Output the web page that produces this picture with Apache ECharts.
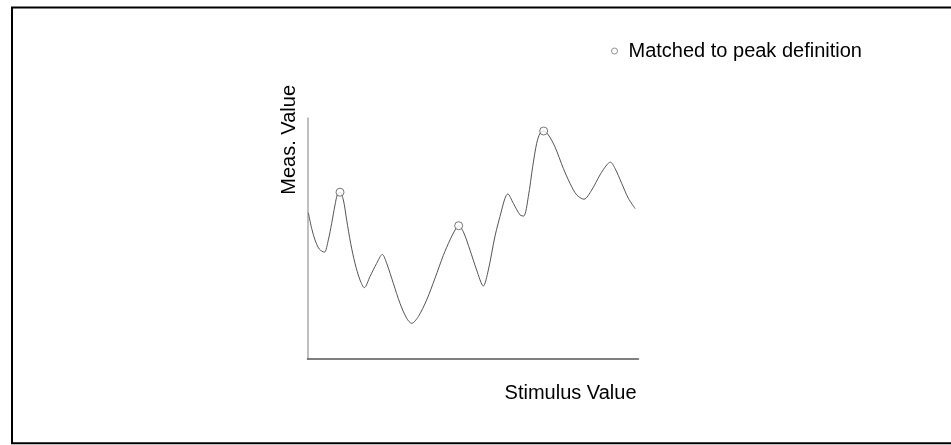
<!DOCTYPE html>
<html>
<head>
<meta charset="utf-8">
<script src="https://cdn.jsdelivr.net/npm/echarts@6/dist/echarts.min.js"></script>
<style>
  html, body { margin: 0; padding: 0; background: #fff; }
  #chart { width: 951px; height: 445px; }
</style>
</head>
<body>
<div id="chart"></div>
<script>
// Measured response curve (stimulus, measured value), arbitrary units
const stimulus = [0.25, 1.26, 2.27, 3.57, 5.08, 6.29, 7.30, 8.31, 9.01, 9.82, 10.83, 11.83,
  13.04, 14.35, 15.86, 17.17, 18.88, 20.90, 22.61, 23.92, 25.93, 27.95, 29.96, 31.47, 33.48,
  36.00, 38.52, 41.04, 43.05, 44.56, 45.67, 47.08, 49.09, 51.11, 53.12, 54.63, 56.65, 58.66,
  59.67, 60.47, 62.18, 64.20, 65.31, 66.72, 68.03, 69.24, 70.24, 71.35, 72.76, 74.77, 77.29,
  79.31, 81.32, 83.53, 85.85, 88.37, 90.38, 91.49, 92.90, 94.92, 96.93, 99.00];
const measured = [60.7, 54.2, 49.4, 45.6, 44.3, 49.4, 56.3, 63.9, 68.1, 69.2, 66.0, 57.7,
  48.0, 39.7, 32.8, 29.6, 34.2, 39.7, 43.4, 39.7, 31.4, 23.1, 16.9, 14.8, 17.6,
  24.5, 33.5, 43.0, 49.4, 53.5, 55.3, 52.8, 45.2, 36.9, 30.3, 36.9, 51.0, 61.8,
  66.7, 68.5, 64.6, 59.8, 59.3, 67.4, 79.8, 89.5, 93.6, 94.6, 93.0, 88.0, 79.1,
  72.9, 68.1, 66.3, 70.1, 76.4, 80.5, 81.7, 79.1, 72.9, 66.7, 62.4];

// Peaks that satisfy the peak definition
const peakStimulus = [9.82, 45.67, 71.35];
const peakMeasured = [69.2, 55.3, 94.6];

const peakLabel = 'Matched to peak definition';
const xName = 'Stimulus Value';
const yName = 'Meas. Value';

const FONT = "'Liberation Sans', Arial, Helvetica, sans-serif";

const curve = stimulus.map((s, i) => [s, measured[i]]);
const peaks = peakStimulus.map((s, i) => [s, peakMeasured[i]]);

const chart = echarts.init(document.getElementById('chart'), null, { renderer: 'canvas' });
chart.setOption({
  animation: false,
  backgroundColor: '#fff',
  textStyle: { fontFamily: FONT },
  graphic: [{
    type: 'rect',
    shape: { x: 12, y: 7.5, width: 950, height: 435.8 },
    style: { fill: 'none', stroke: '#000', lineWidth: 2 },
    silent: true
  }],
  legend: {
    data: [peakLabel],
    left: 606,
    top: 36,
    icon: 'circle',
    itemWidth: 6,
    itemHeight: 6,
    itemStyle: { color: '#fff', borderColor: '#777', borderWidth: 1 },
    textStyle: { fontFamily: FONT, fontSize: 20, color: '#000', padding: [0, 0, 0, 6] }
  },
  grid: { left: 307.5, right: 312.5, top: 118, bottom: 86 },
  xAxis: {
    type: 'value', min: 0, max: 100,
    name: xName,
    nameLocation: 'end',
    nameGap: -2,
    nameTextStyle: { fontFamily: FONT, fontSize: 20, color: '#000', align: 'right', verticalAlign: 'top', padding: [24, 0, 0, 0] },
    axisLine: { lineStyle: { color: '#555', width: 1.5 } },
    axisTick: { show: false }, axisLabel: { show: false }, splitLine: { show: false }
  },
  yAxis: {
    type: 'value', min: 0, max: 100,
    name: yName,
    nameLocation: 'end',
    nameRotate: 90,
    nameGap: 33,
    nameTextStyle: { fontFamily: FONT, fontSize: 20, color: '#000', align: 'right', verticalAlign: 'bottom', padding: [0, 0, 8, 0] },
    axisLine: { lineStyle: { color: '#aaa', width: 1.5 } },
    axisTick: { show: false }, axisLabel: { show: false }, splitLine: { show: false }
  },
  series: [
    {
      type: 'line',
      data: curve,
      smooth: 0.3,
      showSymbol: false,
      lineStyle: { color: '#555', width: 1 },
      silent: true,
      z: 2
    },
    {
      name: peakLabel,
      type: 'scatter',
      data: peaks,
      symbol: 'circle',
      symbolSize: 8,
      itemStyle: { color: '#fff', borderColor: '#555', borderWidth: 1 },
      z: 3
    }
  ]
});
</script>
</body>
</html>
